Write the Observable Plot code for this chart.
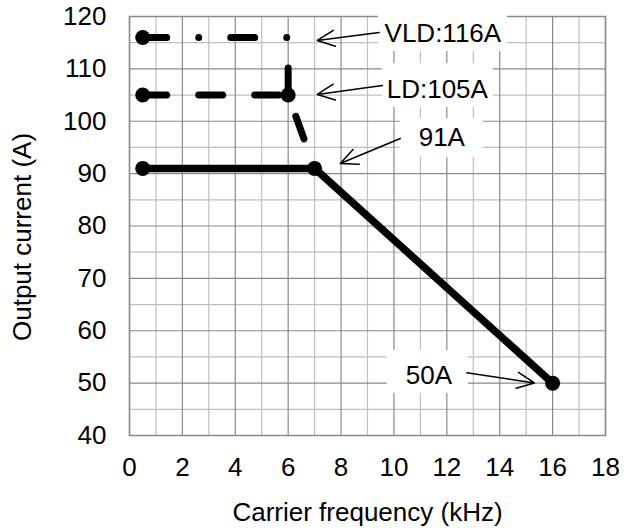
<!DOCTYPE html>
<html>
<head>
<meta charset="utf-8">
<script src="https://cdn.jsdelivr.net/npm/d3@7"></script>
<script src="https://cdn.jsdelivr.net/npm/@observablehq/plot@0.6"></script>
<style>
  html, body { margin: 0; padding: 0; background: #fff; }
  svg { display: block; }
</style>
</head>
<body>
<div id="chart"></div>
<script>
// ---- data ----
const ndFreq = [0.5, 7, 16];
const ndCurrent = [91, 91, 50];
const ldFreq = [0.5, 6, 7];
const ldCurrent = [105, 105, 91];
const vldFreq = [0.5, 6, 6];
const vldCurrent = [116, 116, 105];
const markerFreq = [0.5, 0.5, 6, 0.5, 7, 16];
const markerCurrent = [116, 105, 105, 91, 91, 50];

const xTicks = [0, 2, 4, 6, 8, 10, 12, 14, 16, 18];
const xMinorTicks = [1, 3, 5, 7, 9, 11, 13, 15, 17];
const yTicks = [40, 50, 60, 70, 80, 90, 100, 110, 120];
const yMinorTicks = [45, 55, 65, 75, 85, 95, 105, 115];
const xLabel = "Carrier frequency (kHz)";
const yLabel = "Output current (A)";

// annotations (in data units)
const noteText = ["VLD:116A", "LD:105A", "91A", "50A"];
const noteX = [11.85, 11.64, 11.81, 11.32];
const noteY = [116.75, 106.06, 96.8, 51.36];
const noteBoxX1 = [9.41, 9.56, 10.24, 9.75];
const noteBoxX2 = [14.29, 13.76, 13.38, 12.81];
const noteBoxY1 = [113.32, 102.63, 93.08, 48.02];
const noteBoxY2 = [120.38, 111.03, 100.52, 56.23];
const arrowFromX = [9.44, 9.56, 10.24, 12.76];
const arrowFromY = [116.95, 106.83, 96.71, 51.97];
const arrowToX = [7.10, 7.10, 7.97, 15.31];
const arrowToY = [115.42, 105.11, 91.93, 50.04];

// ---- tables ----
const nd = ndFreq.map((f, i) => ({f, a: ndCurrent[i]}));
const ld = ldFreq.map((f, i) => ({f, a: ldCurrent[i]}));
const vld = vldFreq.map((f, i) => ({f, a: vldCurrent[i]}));
const markers = markerFreq.map((f, i) => ({f, a: markerCurrent[i]}));
const notes = noteText.map((t, i) => ({
  t, x: noteX[i], y: noteY[i],
  bx1: noteBoxX1[i], bx2: noteBoxX2[i], by1: noteBoxY1[i], by2: noteBoxY2[i],
  ax1: arrowFromX[i], ay1: arrowFromY[i], ax2: arrowToX[i], ay2: arrowToY[i]
}));

const FONT = "'Liberation Sans', Arial, Helvetica, sans-serif";

const chart = Plot.plot({
  width: 624,
  height: 531,
  marginLeft: 129,
  marginRight: 19,
  marginTop: 16,
  marginBottom: 96,
  style: {fontFamily: FONT, fontSize: "26px", color: "#000", background: "#fff", overflow: "visible"},
  x: {domain: [0, 18]},
  y: {domain: [40, 120]},
  marks: [
    Plot.gridX(xMinorTicks, {stroke: "#c0c0c0", strokeOpacity: 1, strokeWidth: 1.2}),
    Plot.gridY(yMinorTicks, {stroke: "#c0c0c0", strokeOpacity: 1, strokeWidth: 1.2}),
    Plot.gridX(xTicks, {stroke: "#8a8a8a", strokeOpacity: 1, strokeWidth: 1.2}),
    Plot.gridY(yTicks, {stroke: "#8a8a8a", strokeOpacity: 1, strokeWidth: 1.2}),
    Plot.frame({stroke: "#8a8a8a", strokeWidth: 1.5}),
    Plot.axisX(xTicks, {tickSize: 0, tickPadding: 22, label: null, fill: "#000"}),
    Plot.axisY(yTicks, {tickSize: 0, tickPadding: 23, label: null, fill: "#000"}),
    Plot.rect(notes, {x1: "bx1", x2: "bx2", y1: "by1", y2: "by2", fill: "#fff"}),
    Plot.line(vld, {x: "f", y: "a", stroke: "#000", strokeWidth: 7,
      strokeDasharray: "24,32,0,32", strokeLinecap: "round", strokeLinejoin: "round"}),
    Plot.line(ld, {x: "f", y: "a", stroke: "#000", strokeWidth: 7,
      strokeDasharray: "24,32", strokeLinecap: "round", strokeLinejoin: "round"}),
    Plot.line(nd, {x: "f", y: "a", stroke: "#000", strokeWidth: 7.5,
      strokeLinecap: "round", strokeLinejoin: "round"}),
    Plot.dot(markers, {x: "f", y: "a", r: 7.5, fill: "#000", stroke: "none"}),
    Plot.arrow(notes, {x1: "ax1", y1: "ay1", x2: "ax2", y2: "ay2", stroke: "#000",
      strokeWidth: 1.5, headLength: 19, headAngle: 50, bend: 0}),
    Plot.text(notes, {x: "x", y: "y", text: "t", fill: "#000", fontSize: 26}),
    Plot.text([xLabel], {frameAnchor: "bottom", lineAnchor: "top", dy: 67, fill: "#000", fontSize: 26}),
    Plot.text([yLabel], {frameAnchor: "left", rotate: -90, textAnchor: "middle", lineAnchor: "top",
      dx: -117, dy: 11, fill: "#000", fontSize: 26})
  ]
});
document.getElementById("chart").appendChild(chart);
</script>
</body>
</html>
